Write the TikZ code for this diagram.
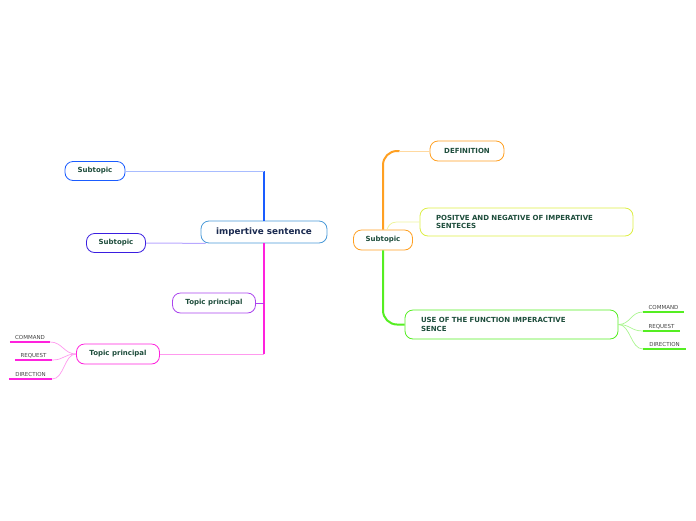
\documentclass[tikz,border=0pt]{standalone}
\usepackage{fontspec}
\setmainfont{DejaVu Sans}
\definecolor{txtgreen}{HTML}{1E4D3C}
\definecolor{txtnavy}{HTML}{1A2A50}
\definecolor{leafgray}{HTML}{444444}
\definecolor{cblue}{HTML}{1A5CFF}
\definecolor{cbluelt}{HTML}{A8BCFF}
\definecolor{cindigo}{HTML}{3A1EE0}
\definecolor{cindigolt}{HTML}{B8A8FF}
\definecolor{cpurple}{HTML}{AA44EE}
\definecolor{cmagenta}{HTML}{FF22DD}
\definecolor{cmagentalt}{HTML}{FF99EE}
\definecolor{corange}{HTML}{FFA022}
\definecolor{corangelt}{HTML}{FFD9A0}
\definecolor{cyellow}{HTML}{DDEE44}
\definecolor{cyellowlt}{HTML}{EEF5A0}
\definecolor{cgreen}{HTML}{55EE22}
\definecolor{cgreenlt}{HTML}{AAF590}
\definecolor{ccentral}{HTML}{4A9AD8}
\begin{document}
\begin{tikzpicture}[x=1pt, y=-1pt,
    topic/.style={draw, fill=white, rounded corners=8pt, line width=0.8pt, inner sep=0pt,
      font=\fontsize{7}{8.5}\selectfont\bfseries, text=txtgreen},
    leaf/.style={anchor=south, inner sep=2pt, font=\fontsize{5.5}{6.5}\selectfont, text=leafgray}]
    % 1. fixed page frame
    \useasboundingbox (0,0) rectangle (696,520);

    % 2. nodes of the left side
    \node[topic, draw=ccentral, minimum width=126, minimum height=22,
      font=\fontsize{8.8}{10}\selectfont\bfseries, text=txtnavy] (central) at (264,232) {impertive sentence};
    \node[topic, draw=cblue, minimum width=60, minimum height=19] (subA) at (95,171) {Subtopic};
    \node[topic, draw=cindigo, minimum width=59, minimum height=19] (subB) at (116,243) {Subtopic};
    \node[topic, draw=cpurple, minimum width=83, minimum height=20] (tpA) at (214,303) {Topic principal};
    \node[topic, draw=cmagenta, minimum width=83, minimum height=20] (tpB) at (118,354) {Topic principal};
    \node[leaf, minimum width=40] (lcmd) at (30,342) {COMMAND};
    \node[leaf, minimum width=37] (lreq) at (33.5,360) {REQUEST};
    \node[leaf, minimum width=43] (ldir) at (30.5,379) {DIRECTION};

    % 3. nodes of the right side
    \node[topic, draw=corange, minimum width=59, minimum height=20] (subR) at (383,240) {Subtopic};
    \node[topic, draw=corange, minimum width=74, minimum height=20] (defn) at (467,151) {DEFINITION};
    \node[topic, draw=cyellow, minimum width=213, minimum height=28, text width=181, inner xsep=16pt,
      align=left] (posneg) at (526.5,222) {POSITVE AND NEGATIVE OF IMPERATIVE\\SENTECES};
    \node[topic, draw=cgreen, minimum width=213, minimum height=29, text width=181, inner xsep=16pt,
      align=left] (usefn) at (511.5,324.5) {USE OF THE FUNCTION IMPERACTIVE\\SENCE};
    \node[leaf, minimum width=41] (rcmd) at (663.5,312) {COMMAND};
    \node[leaf, minimum width=37] (rreq) at (661.5,331) {REQUEST};
    \node[leaf, minimum width=43] (rdir) at (664.5,349) {DIRECTION};

    % 4. connectors of the left side
    \coordinate (kneeA) at (central.north |- subA.east);
    \coordinate (kneeB) at (central.south |- tpB.east);
    \coordinate (kneeT) at (central.south |- tpA.east);
    \draw[cblue, line width=1.6pt] (central.north) -- (kneeA);
    \draw[cbluelt, line width=1pt] (kneeA) -- (subA.east);
    \draw[cindigolt, line width=1pt] (subB.east) -- ([xshift=5pt]central.south west);
    \draw[cmagenta, line width=1.8pt] (central.south) -- (kneeB);
    \draw[cmagentalt, line width=0.8pt] (kneeB) -- (tpB.east);
    \draw[cpurple, line width=0.8pt] (tpA.east) -- (kneeT);
    \foreach \leafname in {lcmd, lreq, ldir} {
      \draw[cmagenta, line width=1.2pt] (\leafname.south west) -- (\leafname.south east);
      \draw[cmagentalt, line width=0.7pt] (tpB.west) .. controls +(-12,0) and +(12,0) .. (\leafname.south east);
    }

    % 5. connectors of the right side
    \draw[corange, line width=2pt, rounded corners=14pt] (subR.north) |- ([xshift=-30pt]defn.west);
    \draw[corangelt, line width=1pt] ([xshift=-31pt]defn.west) -- (defn.west);
    \draw[cyellowlt, line width=0.8pt] ([xshift=4pt]subR.north) .. controls +(3,-8) and +(-8,0) .. ([xshift=-18pt]posneg.west) -- (posneg.west);
    \draw[cgreen, line width=2pt, rounded corners=14pt] (subR.south) |- (usefn.west);
    \foreach \leafname in {rcmd, rreq, rdir} {
      \draw[cgreen, line width=1.2pt] (\leafname.south west) -- (\leafname.south east);
      \draw[cgreenlt, line width=0.7pt] (usefn.east) .. controls +(12,0) and +(-12,0) .. (\leafname.south west);
    }
\end{tikzpicture}
\end{document}
